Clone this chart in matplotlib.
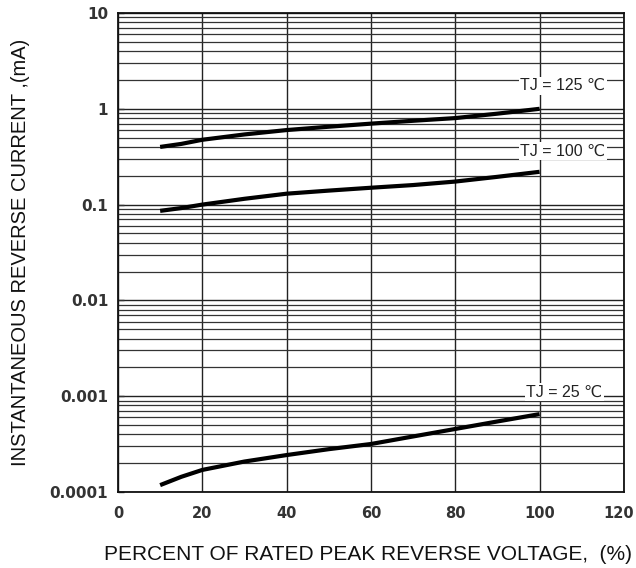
import numpy as np
import matplotlib.pyplot as plt
import matplotlib.transforms as mtransforms
from matplotlib.ticker import FixedLocator, NullFormatter

# percent of rated peak reverse voltage
volt_pct = [10, 15, 20, 30, 40, 50, 60, 70, 80, 90, 100]
# reverse current (mA)
ir_125 = [0.40, 0.43, 0.475, 0.54, 0.60, 0.65, 0.70, 0.75, 0.80, 0.89, 1.0]
ir_100 = [0.086, 0.092, 0.10, 0.115, 0.13, 0.14, 0.15, 0.16, 0.174, 0.195, 0.22]
ir_25 = [0.000118, 0.000144, 0.000170, 0.000208, 0.000243, 0.000280, 0.000317, 0.000380, 0.000455, 0.000545, 0.00065]

curve_labels = ["TJ = 125 \u2103", "TJ = 100 \u2103", "TJ = 25 \u2103"]
label_pos = [(105.5, 1.74), (105.5, 0.36), (105.8, 0.0011)]

y_ticks = [0.0001, 0.001, 0.01, 0.1, 1, 10]
y_ticklabels = ["0.0001", "0.001", "0.01", "0.1", "1", "10"]
x_ticks = [0, 20, 40, 60, 80, 100, 120]

fonts = ['Liberation Sans', 'DejaVu Sans']
plt.rcParams['font.family'] = fonts

fig = plt.figure(figsize=(6.36, 5.68), dpi=100)
ax = fig.add_axes([0.1855, 0.1338, 0.7955, 0.8433])

ax.set_yscale('log')
ax.set_xlim(0, 120)
ax.set_ylim(0.0001, 10)

# grid: decades plus 2..9 in each decade, vertical every 20
minors = [m * 10.0 ** e for e in range(-4, 1) for m in range(2, 10)]
ax.yaxis.set_minor_locator(FixedLocator(minors))
ax.yaxis.set_minor_formatter(NullFormatter())
ax.set_yticks(y_ticks)
ax.set_yticklabels(y_ticklabels)
ax.set_xticks(x_ticks)
ax.grid(True, which='major', axis='both', color='#222222', lw=1.0)
ax.grid(True, which='minor', axis='y', color='#333333', lw=0.9)
ax.set_axisbelow(True)

ax.tick_params(axis='y', which='major', direction='in', length=4, width=1,
               labelsize=11, pad=7, colors='#333333')
ax.tick_params(axis='y', which='minor', length=0)
ax.tick_params(axis='x', which='major', length=0, labelsize=10.5, pad=10, colors='#333333')
for lbl in ax.get_xticklabels() + ax.get_yticklabels():
    lbl.set_family('DejaVu Sans')
    lbl.set_fontweight('bold')

# keep "120" inside the figure edge
last = ax.get_xticklabels()[-1]
last.set_transform(last.get_transform() +
                   mtransforms.ScaledTranslation(-4 / 72, 0, fig.dpi_scale_trans))

for side in ['left', 'right', 'top', 'bottom']:
    ax.spines[side].set_linewidth(1.3)
    ax.spines[side].set_color('#111111')

for ys in [ir_125, ir_100, ir_25]:
    ax.plot(volt_pct, ys, color='black', lw=3, solid_capstyle='butt')

for txt, (x, y) in zip(curve_labels, label_pos):
    ax.text(x, y, txt, ha='center', va='center', fontsize=11.5, color='#222222',
            family=fonts,
            bbox=dict(facecolor='white', edgecolor='none', pad=1.0))

ax.set_xlabel("PERCENT OF RATED PEAK REVERSE VOLTAGE,  (%)", fontsize=15,
              color='#111111')
ax.set_ylabel("INSTANTANEOUS REVERSE CURRENT ,(mA)", fontsize=14.5,
              color='#111111')
ax.xaxis.set_label_coords(0.495, -0.111)
ax.yaxis.set_label_coords(-0.174, 0.5)

fig.savefig('out.png', dpi=100)
